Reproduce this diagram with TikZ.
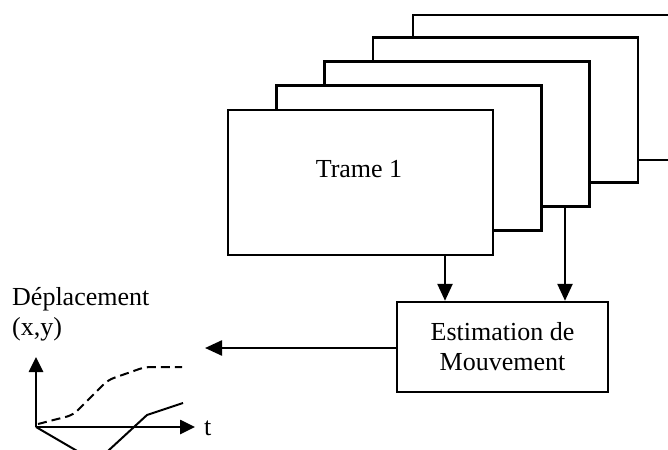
\documentclass[tikz,border=0pt]{standalone}
\usepackage{fontspec}
\setmainfont{Liberation Serif}
\usetikzlibrary{arrows.meta,positioning,calc}
\tikzset{
  frame/.style={draw=black,fill=white,line width=2.4pt,minimum width=265pt,
                minimum height=145pt,inner sep=0pt},
  estbox/.style={draw=black,fill=white,line width=2.4pt,minimum width=211pt,
                 minimum height=90pt,align=center,inner sep=0pt,
                 font=\fontsize{26}{30}\selectfont},
  lbl/.style={inner sep=0pt,font=\fontsize{26}{30}\selectfont},
  fl/.style={-{Triangle[length=17pt,width=15pt]},line width=2.4pt},
  axis/.style={-{Triangle[length=15pt,width=14pt]},line width=2.6pt},
  curve/.style={line width=2pt}
}
\begin{document}
\begin{tikzpicture}[x=1pt,y=-1pt]
  \useasboundingbox (0,0) rectangle (668,449);
  \clip (0,0) rectangle (668,449);
  % stack of frames, back to front
  \node[frame] (f5) at (545.5,87.5) {};
  \node[frame] (f4) at (505.5,110) {};
  \node[frame] (f3) at (457,134) {};
  \node[frame] (f2) at (409,158) {};
  \node[frame] (f1) at (360.5,182.5) {};
  \node[lbl,anchor=base] (t1lbl) at (359,177) {Trame 1};
  % estimation block
  \node[estbox] (est) at (502.5,347) {Estimation de\\Mouvement};
  \draw[fl] ([xshift=84.5pt]f1.south) -- ([xshift=84.5pt]f1.south |- est.north);
  \draw[fl] ([xshift=108pt]f3.south) -- ([xshift=108pt]f3.south |- est.north);
  \coordinate (gout) at (205,348);
  \draw[fl] (est.west |- gout) -- (gout);
  % displacement plot
  \node[lbl,anchor=north west,align=left] (ylbl) at (12,287) {Déplacement\\(x,y)};
  \coordinate (o) at (36,427);
  \coordinate (ytip) at (36,357);
  \coordinate (xtip) at (195,427);
  \draw[axis] (o) -- (ytip);
  \draw[axis] (o) -- (xtip);
  \node[lbl,anchor=base west] (tlbl) at (204,435) {t};
  \draw[curve,rounded corners=6pt,dash pattern=on 9pt off 5pt] (38,424) -- (73,415) -- (108,380) -- (145,367) -- (182,367);
  \draw[curve] (o) -- (96,462) -- (147,415) -- (183,403);
\end{tikzpicture}
\end{document}
